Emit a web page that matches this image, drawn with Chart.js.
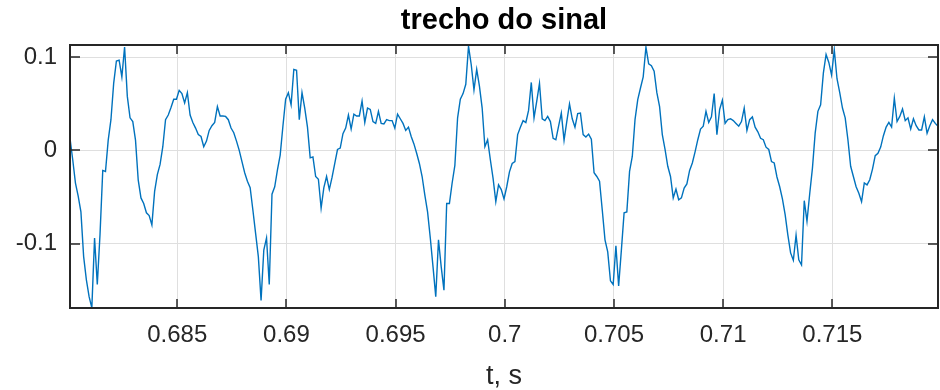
<!DOCTYPE html>
<html>
<head>
<meta charset="utf-8">
<script src="https://cdn.jsdelivr.net/npm/chart.js@4.4.1/dist/chart.umd.min.js"></script>
<style>
html,body{margin:0;padding:0;background:#fff;}
#wrap{width:940px;height:390px;}
</style>
</head>
<body>
<div id="wrap"><canvas id="c" width="940" height="390"></canvas></div>
<script>
// ---- data ----
const chartTitle = 'trecho do sinal';
const xAxisLabel = 't, s';
const startTime = 0.68009;      // s, first sample
const sampleRate = 8000;        // Hz
const signal = [
 0.013,-0.010,-0.035,-0.049,-0.066,-0.114,-0.139,-0.157,-0.169,-0.094,
-0.144,-0.090,-0.0215,-0.0226,0.011,0.033,0.072,0.096,0.097,0.079,
 0.111,0.058,0.035,0.031,0.011,-0.032,-0.051,-0.057,-0.067,-0.070,
-0.080,-0.044,-0.026,-0.015,0.004,0.033,0.038,0.046,0.055,0.055,
 0.0645,0.061,0.051,0.062,0.038,0.030,0.024,0.017,0.015,0.004,
 0.010,0.0215,0.0265,0.030,0.047,0.037,0.037,0.0365,0.033,0.024,
 0.019,0.010,0.000,-0.012,-0.024,-0.033,-0.040,-0.064,-0.089,-0.114,
-0.161,-0.107,-0.094,-0.144,-0.047,-0.039,-0.021,-0.005,0.026,0.055,
 0.062,0.049,0.087,0.086,0.033,0.062,0.0455,0.025,-0.008,-0.007,
-0.028,-0.031,-0.062,-0.040,-0.028,-0.042,-0.029,-0.014,0.001,0.0025,
 0.018,0.024,0.038,0.023,0.039,0.037,0.037,0.053,0.030,0.0455,
 0.044,0.031,0.029,0.042,0.029,0.0285,0.033,0.032,0.032,0.024,
 0.039,0.034,0.029,0.0215,0.025,0.015,0.007,-0.003,-0.014,-0.028,
-0.048,-0.066,-0.094,-0.125,-0.157,-0.096,-0.125,-0.150,-0.057,-0.057,
-0.035,-0.016,0.035,0.055,0.061,0.071,0.112,0.092,0.065,0.087,
 0.069,0.0455,0.004,0.0115,-0.010,-0.030,-0.055,-0.037,-0.042,-0.052,
-0.039,-0.023,-0.014,-0.012,0.017,0.025,0.032,0.030,0.043,0.073,
 0.035,0.053,0.072,0.034,0.032,0.0365,0.031,0.013,0.0115,0.026,
 0.040,0.011,0.031,0.050,0.034,0.025,0.0395,0.040,0.017,0.0145,
 0.0175,0.012,-0.024,-0.028,-0.033,-0.064,-0.096,-0.109,-0.140,-0.144,
-0.1025,-0.1455,-0.107,-0.067,-0.066,-0.0225,-0.0065,0.033,0.0545,0.067,
 0.079,0.111,0.093,0.091,0.085,0.062,0.047,0.017,0.001,-0.017,
-0.028,-0.051,-0.0415,-0.053,-0.051,-0.0405,-0.036,-0.0215,-0.0135,-0.0015,
 0.0115,0.023,0.026,0.042,0.030,0.036,0.061,0.017,0.044,0.054,
 0.029,0.033,0.034,0.032,0.029,0.026,0.031,0.0455,0.0215,0.033,
 0.036,0.025,0.020,0.013,0.0115,0.0035,0.001,-0.012,-0.0135,-0.0285,
-0.039,-0.052,-0.069,-0.091,-0.110,-0.118,-0.091,-0.1175,-0.123,-0.054,
-0.076,-0.0465,-0.019,0.0185,0.042,0.049,0.083,0.103,0.0945,0.081,
 0.108,0.077,0.062,0.0455,0.035,0.0115,-0.017,-0.028,-0.039,-0.046,
-0.055,-0.035,-0.037,-0.0315,-0.020,-0.0057,-0.003,0.0036,0.0158,0.025,
 0.030,0.025,0.056,0.031,0.0365,0.0445,0.032,0.035,0.023,0.034,
 0.0265,0.022,0.022,0.036,0.0185,0.0265,0.033,0.029,0.026
];
const xTickValues = [0.685, 0.69, 0.695, 0.7, 0.705, 0.71, 0.715];
const xTickLabels = ['0.685', '0.69', '0.695', '0.7', '0.705', '0.71', '0.715'];
const yTickValues = [-0.1, 0, 0.1];
const yTickLabels = ['-0.1', '0', '0.1'];
const yLimits = [-0.1692, 0.1132];

// ---- build ----
const times = signal.map((_, i) => startTime + i / sampleRate);
const points = signal.map((v, i) => ({x: times[i], y: v}));

Chart.defaults.font.family = "'Liberation Sans', Arial, Helvetica, sans-serif";
Chart.defaults.color = '#262626';

const frame = {
  id: 'frame',
  afterDraw(chart) {
    const {ctx, chartArea: a, scales: {x, y}} = chart;
    ctx.save();
    ctx.strokeStyle = '#262626';
    ctx.lineWidth = 1.5;
    ctx.beginPath();
    xTickValues.forEach(v => {
      const px = Math.round(x.getPixelForValue(v));
      ctx.moveTo(px, a.top); ctx.lineTo(px, a.top + 9);
      ctx.moveTo(px, a.bottom); ctx.lineTo(px, a.bottom - 9);
    });
    yTickValues.forEach(v => {
      const py = Math.round(y.getPixelForValue(v));
      ctx.moveTo(a.left, py); ctx.lineTo(a.left + 10, py);
      ctx.moveTo(a.right, py); ctx.lineTo(a.right - 10, py);
    });
    ctx.stroke();
    ctx.lineWidth = 2;
    ctx.strokeRect(a.left, a.top, a.right - a.left, a.bottom - a.top);
    ctx.restore();
  }
};

new Chart(document.getElementById('c'), {
  type: 'line',
  data: {
    datasets: [{
      data: points,
      borderColor: '#0072BD',
      borderWidth: 1.4,
      pointRadius: 0,
      tension: 0,
      fill: false
    }]
  },
  options: {
    responsive: false,
    animation: false,
    layout: {padding: {left: 0, right: 2, top: 0, bottom: 0}},
    plugins: {
      legend: {display: false},
      tooltip: {enabled: false},
      title: {
        display: true,
        fullSize: false,
        text: chartTitle,
        color: '#000',
        font: {size: 29, weight: 'bold', lineHeight: 1.2},
        padding: {top: 3.5, bottom: 6.7}
      }
    },
    scales: {
      x: {
        type: 'linear',
        min: times[0],
        max: times[times.length - 1],
        afterBuildTicks: s => { s.ticks = xTickValues.map(v => ({value: v})); },
        afterFit: s => { s.height = 82; },
        ticks: {
          autoSkip: false,
          maxRotation: 0,
          padding: 13,
          font: {size: 24},
          color: '#262626',
          callback: (v, i) => xTickLabels[i]
        },
        grid: {color: '#dfdfdf', lineWidth: 1, drawTicks: false},
        border: {display: false},
        title: {
          display: true,
          text: xAxisLabel,
          color: '#262626',
          font: {size: 27, lineHeight: 1},
          padding: {top: 0, bottom: 0}
        }
      },
      y: {
        min: yLimits[0],
        max: yLimits[1],
        afterBuildTicks: s => { s.ticks = yTickValues.map(v => ({value: v})); },
        afterFit: s => { s.width = 70; },
        ticks: {
          padding: 13,
          font: {size: 24},
          color: '#262626',
          callback: (v, i) => yTickLabels[i]
        },
        grid: {color: '#dfdfdf', lineWidth: 1, drawTicks: false},
        border: {display: false}
      }
    }
  },
  plugins: [frame]
});
</script>
</body>
</html>
